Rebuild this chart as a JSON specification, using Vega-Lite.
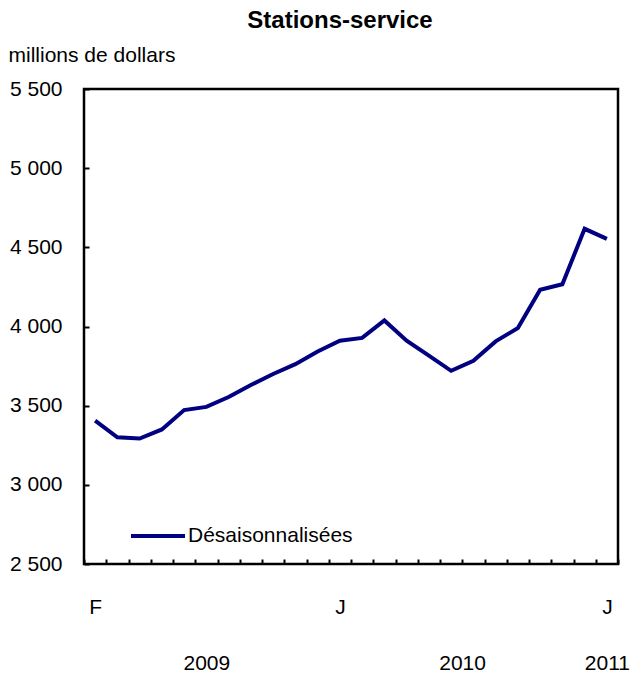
{
  "$schema": "https://vega.github.io/schema/vega-lite/v6.json",
  "width": 534,
  "height": 475,
  "autosize": {"type": "none"},
  "padding": {"left": 84, "top": 89, "right": 14, "bottom": 113},
  "background": "white",
  "title": {
    "text": "Stations-service",
    "font": "Liberation Sans",
    "fontSize": 24,
    "fontWeight": "bold",
    "color": "black",
    "anchor": "middle",
    "baseline": "alphabetic",
    "dx": -11,
    "frame": "group",
    "offset": -8
  },
  "data": {
    "values": [
      {"mois": "2009-02", "valeur": 3405, "serie": "Désaisonnalisées"},
      {"mois": "2009-03", "valeur": 3300, "serie": "Désaisonnalisées"},
      {"mois": "2009-04", "valeur": 3292, "serie": "Désaisonnalisées"},
      {"mois": "2009-05", "valeur": 3350, "serie": "Désaisonnalisées"},
      {"mois": "2009-06", "valeur": 3472, "serie": "Désaisonnalisées"},
      {"mois": "2009-07", "valeur": 3492, "serie": "Désaisonnalisées"},
      {"mois": "2009-08", "valeur": 3555, "serie": "Désaisonnalisées"},
      {"mois": "2009-09", "valeur": 3630, "serie": "Désaisonnalisées"},
      {"mois": "2009-10", "valeur": 3700, "serie": "Désaisonnalisées"},
      {"mois": "2009-11", "valeur": 3762, "serie": "Désaisonnalisées"},
      {"mois": "2009-12", "valeur": 3842, "serie": "Désaisonnalisées"},
      {"mois": "2010-01", "valeur": 3910, "serie": "Désaisonnalisées"},
      {"mois": "2010-02", "valeur": 3928, "serie": "Désaisonnalisées"},
      {"mois": "2010-03", "valeur": 4038, "serie": "Désaisonnalisées"},
      {"mois": "2010-04", "valeur": 3910, "serie": "Désaisonnalisées"},
      {"mois": "2010-05", "valeur": 3816, "serie": "Désaisonnalisées"},
      {"mois": "2010-06", "valeur": 3720, "serie": "Désaisonnalisées"},
      {"mois": "2010-07", "valeur": 3783, "serie": "Désaisonnalisées"},
      {"mois": "2010-08", "valeur": 3906, "serie": "Désaisonnalisées"},
      {"mois": "2010-09", "valeur": 3990, "serie": "Désaisonnalisées"},
      {"mois": "2010-10", "valeur": 4232, "serie": "Désaisonnalisées"},
      {"mois": "2010-11", "valeur": 4267, "serie": "Désaisonnalisées"},
      {"mois": "2010-12", "valeur": 4617, "serie": "Désaisonnalisées"},
      {"mois": "2011-01", "valeur": 4553, "serie": "Désaisonnalisées"}
    ]
  },
  "mark": {"type": "line", "strokeWidth": 4, "strokeJoin": "miter", "strokeCap": "butt"},
  "encoding": {
    "x": {
      "field": "mois",
      "type": "ordinal",
      "sort": null,
      "bandPosition": 0.5,
      "scale": {"type": "band", "paddingInner": 0, "paddingOuter": 0},
      "axis": {
        "title": null,
        "tickBand": "extent",
        "tickSize": -5,
        "labelPadding": 37,
        "labelLineHeight": 56,
        "labelBaseline": "top",
        "labelAngle": 0,
        "labelOverlap": false,
        "labelOffset": {"condition": {"test": "datum.value == '2010-06'", "value": 11}, "value": 0},
        "labelExpr": "datum.value == '2009-02' ? 'F' : datum.value == '2009-07' ? ['', '2009'] : datum.value == '2010-01' ? 'J' : datum.value == '2010-06' ? ['', '2010'] : datum.value == '2011-01' ? ['J', '2011'] : ''"
      }
    },
    "y": {
      "field": "valeur",
      "type": "quantitative",
      "scale": {"domain": [2500, 5500], "nice": false, "zero": false},
      "axis": {
        "title": "millions de dollars",
        "titleAngle": 0,
        "titleAlign": "left",
        "titleBaseline": "middle",
        "titleX": -76,
        "titleY": -34,
        "values": [2500, 3000, 3500, 4000, 4500, 5000, 5500],
        "tickSize": -5,
        "labelPadding": 27,
        "labelExpr": "replace(format(datum.value, ','), ',', ' ')"
      }
    },
    "color": {
      "field": "serie",
      "type": "nominal",
      "scale": {"range": ["#000080"]},
      "legend": {
        "orient": "none",
        "legendX": 45,
        "legendY": 418,
        "title": null,
        "symbolType": "stroke",
        "symbolSize": 2916,
        "symbolStrokeWidth": 4,
        "labelFont": "Liberation Sans",
        "labelFontSize": 21,
        "labelColor": "black",
        "labelOffset": 1,
        "labelLimit": 400,
        "padding": 0
      }
    }
  },
  "config": {
    "view": {"stroke": "black", "strokeWidth": 2.5},
    "axis": {
      "grid": false,
      "domain": false,
      "ticks": true,
      "tickColor": "black",
      "tickWidth": 2,
      "labelFont": "Liberation Sans",
      "labelFontSize": 21,
      "labelColor": "black",
      "titleFont": "Liberation Sans",
      "titleFontSize": 21,
      "titleFontWeight": "normal",
      "titleColor": "black"
    }
  }
}
